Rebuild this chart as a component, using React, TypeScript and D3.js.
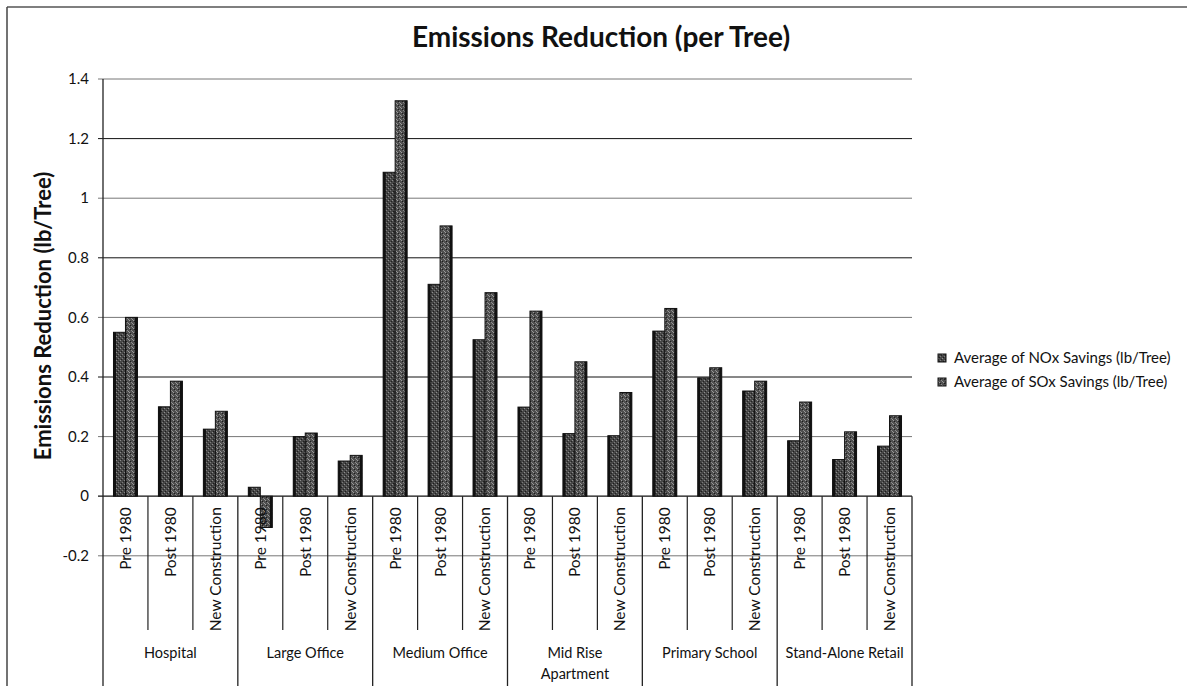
import React from 'react';
import * as d3 from 'd3';

// building types (outer level of the category axis)
const buildings = ['Hospital', 'Large Office', 'Medium Office', 'Mid Rise Apartment', 'Primary School', 'Stand-Alone Retail'];
const buildingLines = [['Hospital'], ['Large Office'], ['Medium Office'], ['Mid Rise', 'Apartment'], ['Primary School'], ['Stand-Alone Retail']];
// vintages (inner level)
const vintages = ['Pre 1980', 'Post 1980', 'New Construction'];

const seriesNames = ['Average of NOx Savings (lb/Tree)', 'Average of SOx Savings (lb/Tree)'];
const noxSavings = [0.55, 0.30, 0.225, 0.03, 0.20, 0.118, 1.087, 0.711, 0.525, 0.299, 0.21, 0.203, 0.554, 0.397, 0.353, 0.186, 0.123, 0.168];
const soxSavings = [0.60, 0.386, 0.285, -0.105, 0.212, 0.137, 1.327, 0.907, 0.683, 0.621, 0.451, 0.348, 0.63, 0.431, 0.386, 0.316, 0.216, 0.27];

const yTicks = [-0.2, 0, 0.2, 0.4, 0.6, 0.8, 1, 1.2, 1.4];

const W = 1187;
const H = 686;
const plot = { left: 103, right: 912, top: 79, bottom: 555.8 };
const font = 'Lato, "Open Sans", sans-serif';

const App: React.FC = () => {
    const keys = buildings.flatMap(b => vintages.map(v => `${b}|${v}`));

    const x0 = d3.scaleBand<string>().domain(keys).range([plot.left, plot.right]).padding(0);
    const x1 = d3.scaleBand<string>().domain(['nox', 'sox']).range([0, x0.bandwidth()]).paddingInner(0).paddingOuter(0.875);
    const y = d3.scaleLinear().domain([-0.2, 1.4]).range([plot.bottom, plot.top]);
    const groupX = d3.scaleBand<string>().domain(buildings).range([plot.left, plot.right]).padding(0);

    const zero = y(0);
    const subLineBottom = 630;
    const fmt = (v: number) => (Math.abs(v) < 1e-9 ? '0' : String(+v.toFixed(1)));
    // scanned gridlines alternate a little in darkness
    const gridColor = (v: number) => (Math.round(v * 10) % 4 === 0 ? '#111' : '#777');

    const bars = keys.flatMap((k, i) => [
        { key: k, s: 'nox', v: noxSavings[i] },
        { key: k, s: 'sox', v: soxSavings[i] },
    ]);

    return (
        <svg width={W} height={H} style={{ position: 'absolute', left: 0, top: 0, background: '#fff' }}>
            <defs>
                <pattern id="stipA" width={4} height={4} patternUnits="userSpaceOnUse">
                    <rect width={4} height={4} fill="#474747" />
                    <rect x={0} y={0} width={1} height={1} fill="#8e8e8e" />
                    <rect x={2} y={2} width={1} height={1} fill="#7c7c7c" />
                    <rect x={1} y={3} width={1} height={1} fill="#1c1c1c" />
                    <rect x={3} y={1} width={1} height={1} fill="#222" />
                </pattern>
                <pattern id="stipB" width={4} height={4} patternUnits="userSpaceOnUse">
                    <rect width={4} height={4} fill="#4f4f4f" />
                    <rect x={1} y={0} width={1} height={1} fill="#9a9a9a" />
                    <rect x={3} y={2} width={1} height={1} fill="#8a8a8a" />
                    <rect x={0} y={3} width={1} height={1} fill="#999" />
                    <rect x={2} y={1} width={1} height={1} fill="#1c1c1c" />
                </pattern>
            </defs>

            {/* outer chart border */}
            <line x1={7} x2={W} y1={7} y2={7} stroke="#555" strokeWidth={1.5} />
            <line x1={7} x2={7} y1={7} y2={H} stroke="#444" strokeWidth={1.5} />

            <text x={601} y={47} textAnchor="middle" fontFamily={font} fontWeight="bold" fontSize={28} fill="#111">
                Emissions Reduction (per Tree)
            </text>

            {/* gridlines + y ticks */}
            {yTicks.map(t => (
                <g key={t}>
                    <line x1={plot.left - 5} x2={plot.right} y1={y(t)} y2={y(t)} stroke={t === 0 ? '#111' : gridColor(t)} strokeWidth={t === 0 ? 1.3 : 1} />
                    <text x={89} y={y(t)} dy="0.35em" textAnchor="end" fontFamily={font} fontSize={15} fill="#111">{fmt(t)}</text>
                </g>
            ))}

            <text transform={`translate(43,316) rotate(-90)`} textAnchor="middle" dy="0.35em"
                fontFamily={font} fontWeight="bold" fontSize={22} fill="#111">
                Emissions Reduction (lb/Tree)
            </text>

            {/* bars */}
            {bars.map(b => {
                const bx = (x0(b.key) ?? 0) + (x1(b.s) ?? 0);
                const bw = x1.bandwidth();
                const top = Math.min(y(b.v), zero);
                const h = Math.abs(y(b.v) - zero);
                return (
                    <g key={b.key + b.s}>
                        <rect x={bx} y={top} width={bw} height={h} fill={b.s === 'nox' ? 'url(#stipA)' : 'url(#stipB)'} stroke="#111" strokeWidth={1} />
                        <rect x={b.s === 'nox' ? bx : bx + bw - 2.5} y={top} width={2.5} height={h} fill="#111" />
                    </g>
                );
            })}

            {/* y axis, extended through category area */}
            <line x1={plot.left} x2={plot.left} y1={plot.top} y2={H} stroke="#222" strokeWidth={1.3} />

            {/* inner category separators and labels */}
            {keys.map((k, i) => {
                const xs = x0(k) ?? 0;
                const isGroupEdge = i % 3 === 0;
                return (
                    <g key={k}>
                        {!isGroupEdge && <line x1={xs} x2={xs} y1={zero} y2={subLineBottom} stroke="#222" strokeWidth={1.2} />}
                        <text transform={`translate(${xs + x0.bandwidth() / 2},${zero + 11}) rotate(-90)`} textAnchor="end" dy="0.35em"
                            fontFamily={font} fontSize={15.5} fill="#111">
                            {k.split('|')[1]}
                        </text>
                    </g>
                );
            })}

            {/* outer category separators and labels */}
            {buildings.map((b, i) => {
                const gx = groupX(b) ?? 0;
                return (
                    <g key={b}>
                        {i > 0 && <line x1={gx} x2={gx} y1={zero} y2={H} stroke="#222" strokeWidth={1.3} />}
                        <text x={gx + groupX.bandwidth() / 2} y={653} textAnchor="middle" fontFamily={font} fontSize={14.5} fill="#111">
                            {buildingLines[i].map((ln, j) => (
                                <tspan key={ln} x={gx + groupX.bandwidth() / 2} dy={j === 0 ? '0.35em' : '1.45em'}>{ln}</tspan>
                            ))}
                        </text>
                    </g>
                );
            })}
            <line x1={plot.right} x2={plot.right} y1={zero} y2={H} stroke="#222" strokeWidth={1.3} />

            {/* legend */}
            {seriesNames.map((s, i) => (
                <g key={s} transform={`translate(942,${358 + i * 24})`}>
                    <rect x={-4} y={-4} width={8} height={8} fill={i === 0 ? 'url(#stipA)' : 'url(#stipB)'} stroke="#111" strokeWidth={1} />
                    <text x={12} dy="0.35em" fontFamily={font} fontSize={15} fill="#111">{s}</text>
                </g>
            ))}
        </svg>
    );
};

export default App;
